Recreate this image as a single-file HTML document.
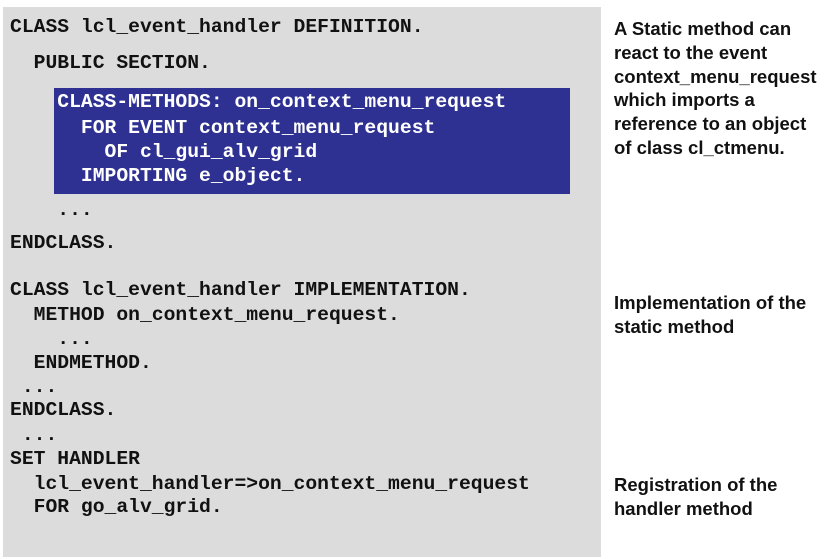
<!DOCTYPE html>
<html><head><meta charset="utf-8"><style>
body{margin:0;width:830px;height:559px;background:#fff;position:relative;overflow:hidden}
#panel{position:absolute;left:3px;top:7px;width:598px;height:550px;background:#dcdcdc}
#blue{position:absolute;left:54px;top:88px;width:516px;height:106px;background:#2e3192}
.c{position:absolute;font-family:"Liberation Mono",monospace;font-weight:bold;font-size:19.7px;white-space:pre;color:#111;line-height:20px;margin-top:-10px}
.w{color:#fff}
.t{position:absolute;left:614px;font-family:"Liberation Sans",sans-serif;font-weight:bold;font-size:18.5px;line-height:23.8px;color:#111;white-space:nowrap}
</style></head><body>
<div id="panel"></div><div id="blue"></div>
<div class="c" style="left:10px;top:27px">CLASS lcl_event_handler DEFINITION.</div>
<div class="c" style="left:10px;top:63px">  PUBLIC SECTION.</div>
<div class="c w" style="left:10px;top:102px">    CLASS-METHODS: on_context_menu_request</div>
<div class="c w" style="left:10px;top:128px">      FOR EVENT context_menu_request</div>
<div class="c w" style="left:10px;top:152px">        OF cl_gui_alv_grid</div>
<div class="c w" style="left:10px;top:176px">      IMPORTING e_object.</div>
<div class="c" style="left:10px;top:210px">    ...</div>
<div class="c" style="left:10px;top:243px">ENDCLASS.</div>
<div class="c" style="left:10px;top:290px">CLASS lcl_event_handler IMPLEMENTATION.</div>
<div class="c" style="left:10px;top:315px">  METHOD on_context_menu_request.</div>
<div class="c" style="left:10px;top:339px">    ...</div>
<div class="c" style="left:10px;top:363px">  ENDMETHOD.</div>
<div class="c" style="left:10px;top:387px"> ...</div>
<div class="c" style="left:10px;top:410px">ENDCLASS.</div>
<div class="c" style="left:10px;top:435px"> ...</div>
<div class="c" style="left:10px;top:459px">SET HANDLER</div>
<div class="c" style="left:10px;top:484px">  lcl_event_handler=&gt;on_context_menu_request</div>
<div class="c" style="left:10px;top:507px">  FOR go_alv_grid.</div>
<div class="t" style="top:17px">A Static method can<br>react to the event<br>context_menu_request<br>which imports a<br>reference to an object<br>of class cl_ctmenu.</div>
<div class="t" style="top:291px">Implementation of the<br>static method</div>
<div class="t" style="top:473px">Registration of the<br>handler method</div>
</body></html>
